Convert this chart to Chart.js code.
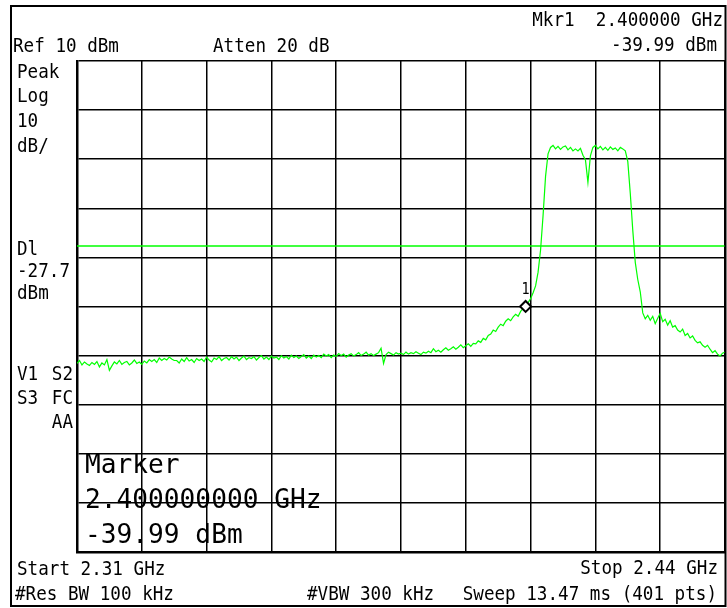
<!DOCTYPE html>
<html>
<head>
<meta charset="utf-8">
<script src="https://cdn.jsdelivr.net/npm/chart.js@4/dist/chart.umd.min.js"></script>
<style>
  html, body { margin: 0; padding: 0; background: #fff; }
  canvas { display: block; }
</style>
</head>
<body>
<canvas id="sa" width="727" height="608"></canvas>
<script>
// sweep settings (MHz / dBm)
const startMHz = 2310;
const stopMHz = 2440;
const stepMHz = 0.5;
const refLevel = 10;
const dbPerDiv = 10;
const displayLine = -27.7;
const markerMHz = 2400;
const markerDbm = -39.99;

// trace, one value every 0.5 MHz
const traceDbm = [
  -51.6, -51.0, -51.9, -51.3, -51.7, -52.0, -51.4, -51.8, -51.2, -52.3,
  -51.5, -51.9, -50.8, -53.0, -52.1, -51.3, -51.7, -51.0, -51.8, -51.4,
  -51.2, -51.9, -51.5, -50.9, -51.6, -51.3, -51.8, -51.1, -51.5, -50.8,
  -51.2, -50.8, -51.4, -50.5, -51.0, -50.6, -50.9, -50.3, -50.7, -51.0,
  -51.0, -51.5, -50.7, -51.2, -50.4, -51.1, -50.8, -51.4, -50.6, -51.0,
  -50.7, -51.2, -50.3, -50.9, -51.3, -50.5, -50.8, -50.2, -51.0, -50.6,
  -50.4, -50.9, -50.2, -50.7, -50.3, -51.0, -50.5, -50.1, -50.8, -50.4,
  -50.6, -50.2, -50.9, -50.4, -50.0, -50.7, -50.3, -50.8, -50.1, -50.5,
  -50.3, -50.8, -50.0, -50.5, -50.2, -50.7, -49.9, -50.4, -50.1, -50.6,
  -50.2, -49.8, -50.5, -50.1, -50.6, -49.9, -50.3, -50.0, -50.4, -49.7,
  -50.1, -49.8, -50.4, -49.9, -50.2, -49.6, -50.0, -49.7, -50.3, -49.9,
  -49.6, -50.1, -49.8, -49.4, -50.0, -49.7, -49.3, -49.9, -49.6, -50.0,
  -49.7, -49.4, -48.5, -51.6, -49.8, -49.3, -49.6, -49.9, -49.4, -49.7,
  -49.5, -49.8, -49.3, -49.7, -49.4, -49.6, -49.2, -49.5, -49.8, -49.3,
  -49.5, -49.1, -49.4, -48.6, -49.2, -48.9, -49.3, -48.8, -48.4, -48.9,
  -48.6, -48.2, -48.7, -48.3, -47.8, -48.4, -48.0, -47.6, -48.1, -47.5,
  -47.6, -47.0, -47.3, -46.5, -46.8, -45.9, -45.6, -44.8, -45.1, -44.2,
  -43.6, -43.9, -43.0, -42.5, -42.9, -42.1, -41.6, -42.0, -41.0, -40.4,
  -39.99, -39.2, -38.4, -37.2, -35.8, -33.0, -28.5, -21.5, -13.5, -8.9,
  -7.6, -7.2, -7.9, -7.4, -8.0, -7.5, -7.3, -8.1, -7.6, -8.3,
  -7.9, -8.3, -7.8, -9.2, -10.1, -14.7, -9.3, -7.6, -7.2, -7.9,
  -7.4, -8.1, -7.6, -8.2, -7.5, -8.0, -7.7, -8.3, -7.6, -7.9,
  -8.3, -10.5, -17.0, -24.5, -31.0, -34.5, -37.0, -41.3, -42.5, -41.8,
  -42.8, -42.0, -43.5, -42.4, -41.4, -43.1, -42.6, -43.8, -42.9, -44.2,
  -43.9, -44.8, -45.2, -44.6, -45.9, -45.5, -46.4, -46.0, -46.9, -47.4,
  -47.2, -47.9, -48.3, -47.9, -48.7, -49.4, -49.0, -49.7, -50.1, -49.5,
  -49.3
];

const FONT = "'DejaVu Sans Mono', 'Liberation Mono', monospace";
const GREEN = '#00ff00';

function label(ctx, text, x, y, size, align, sx) {
  ctx.save();
  ctx.font = size + 'px ' + FONT;
  ctx.fillStyle = '#000';
  ctx.textBaseline = 'alphabetic';
  const w = ctx.measureText(text).width * sx;
  const left = align === 'right' ? x - w : x;
  ctx.translate(left, y);
  ctx.scale(sx, 1);
  ctx.textAlign = 'left';
  ctx.fillText(text, 0, 0);
  ctx.restore();
}

const screenText = {
  id: 'screenText',
  afterDraw(chart) {
    const ctx = chart.ctx;
    const s = 20, k = 0.88;
    // outer frame
    ctx.save();
    ctx.strokeStyle = '#000';
    ctx.lineWidth = 2;
    ctx.strokeRect(11, 6, 714.5, 600);
    ctx.restore();

    label(ctx, 'Mkr1  2.400000 GHz', 723, 26, s, 'right', k);
    label(ctx, 'Ref 10 dBm', 13, 52, s, 'left', k);
    label(ctx, 'Atten 20 dB', 213, 52, s, 'left', k);
    label(ctx, '-39.99 dBm', 717, 51, s, 'right', k);

    label(ctx, 'Peak', 17, 78, s, 'left', k);
    label(ctx, 'Log', 17, 102, s, 'left', k);
    label(ctx, '10', 17, 127, s, 'left', k);
    label(ctx, 'dB/', 17, 152, s, 'left', k);

    label(ctx, 'Dl', 17, 255, s, 'left', k);
    label(ctx, '-27.7', 17, 277, s, 'left', k);
    label(ctx, 'dBm', 17, 299, s, 'left', k);

    label(ctx, 'V1', 17, 380, s, 'left', k);
    label(ctx, 'S2', 73, 380, s, 'right', k);
    label(ctx, 'S3', 17, 404, s, 'left', k);
    label(ctx, 'FC', 73, 404, s, 'right', k);
    label(ctx, 'AA', 73, 428, s, 'right', k);

    label(ctx, 'Marker', 85, 473, 27, 'left', 0.97);
    label(ctx, '2.400000000 GHz', 85, 508, 27, 'left', 0.97);
    label(ctx, '-39.99 dBm', 85, 543, 27, 'left', 0.97);

    label(ctx, 'Start 2.31 GHz', 17, 575, s, 'left', k);
    label(ctx, 'Stop 2.44 GHz', 718, 574, s, 'right', k);
    label(ctx, '#Res BW 100 kHz', 15, 600, s, 'left', k);
    label(ctx, '#VBW 300 kHz', 307, 600, s, 'left', k);
    label(ctx, 'Sweep 13.47 ms (401 pts)', 717, 600, s, 'right', k);

    // marker number above the diamond
    const mx = chart.scales.x.getPixelForValue(markerMHz);
    const my = chart.scales.y.getPixelForValue(markerDbm);
    label(ctx, '1', mx - 4, my - 12, 15, 'left', 0.9);
  }
};

const tracePts = traceDbm.map((v, i) => ({ x: startMHz + i * stepMHz, y: v }));

new Chart(document.getElementById('sa'), {
  type: 'line',
  data: {
    datasets: [
      {
        label: 'Marker 1',
        data: [{ x: markerMHz, y: markerDbm }],
        showLine: false,
        pointStyle: 'rectRot',
        pointRadius: 5.5,
        pointBackgroundColor: '#fff',
        pointBorderColor: '#000',
        pointBorderWidth: 2,
        order: 0
      },
      {
        label: 'Trace',
        data: tracePts,
        borderColor: GREEN,
        borderWidth: 1.2,
        pointRadius: 0,
        tension: 0,
        order: 1
      },
      {
        label: 'Display line',
        data: [{ x: startMHz, y: displayLine }, { x: stopMHz, y: displayLine }],
        borderColor: GREEN,
        borderWidth: 1.5,
        pointRadius: 0,
        order: 2
      }
    ]
  },
  options: {
    responsive: false,
    devicePixelRatio: 1,
    animation: false,
    layout: { autoPadding: false, padding: { left: 77, top: 61, right: 2, bottom: 56 } },
    plugins: { legend: { display: false }, tooltip: { enabled: false } },
    scales: {
      x: {
        type: 'linear',
        min: startMHz,
        max: stopMHz,
        ticks: { display: false, stepSize: (stopMHz - startMHz) / 10 },
        grid: { color: '#000', lineWidth: 1.5, drawTicks: false },
        border: { color: '#000', width: 2.5 }
      },
      y: {
        min: refLevel - 10 * dbPerDiv,
        max: refLevel,
        ticks: { display: false, stepSize: dbPerDiv },
        grid: { color: '#000', lineWidth: 1.5, drawTicks: false },
        border: { color: '#000', width: 2.5 }
      }
    }
  },
  plugins: [screenText]
});
</script>
</body>
</html>
